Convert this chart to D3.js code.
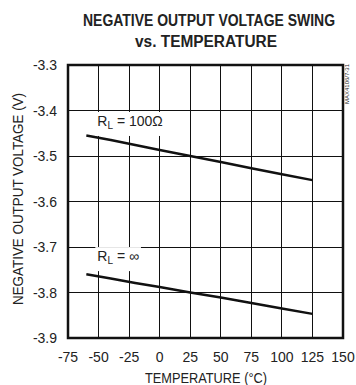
<!DOCTYPE html>
<html>
<head>
<meta charset="utf-8">
<script src="https://cdn.jsdelivr.net/npm/d3@7"></script>
<style>
  html, body { margin: 0; padding: 0; background: #fff; overflow: hidden; }
  svg { display: block; }
  text { font-family: "Liberation Sans", Arial, sans-serif; fill: #222; }
</style>
</head>
<body>
<div id="plot"></div>
<script>
// chart size
const w = 356;
const h = 385;
const margin = {top: 65, right: 13, bottom: 47, left: 68};
const innerWidth = w - margin.left - margin.right;
const innerHeight = h - margin.top - margin.bottom;

// data
const xTicks = [-75, -50, -25, 0, 25, 50, 75, 100, 125, 150];
const yTicks = [-3.3, -3.4, -3.5, -3.6, -3.7, -3.8, -3.9];

const temps = [-60, -40, -20, 0, 25, 50, 75, 100, 125];
const rl100 = [-3.455, -3.465, -3.476, -3.487, -3.500, -3.513, -3.527, -3.540, -3.553];
const rlInf = [-3.760, -3.769, -3.779, -3.788, -3.800, -3.811, -3.823, -3.835, -3.847];

const svg = d3.select("#plot")
  .append("svg")
    .attr("width", w)
    .attr("height", h);

// scales in page coordinates
const xScale = d3.scaleLinear()
    .domain([-75, 150])
    .range([margin.left, w - margin.right]);

const yScale = d3.scaleLinear()
    .domain([-3.3, -3.9])
    .range([margin.top, h - margin.bottom]);

// grid
svg.selectAll(".vgrid")
  .data(xTicks)
  .enter().append("line")
    .attr("x1", d => xScale(d))
    .attr("x2", d => xScale(d))
    .attr("y1", margin.top)
    .attr("y2", h - margin.bottom)
    .attr("stroke", "#111")
    .attr("stroke-width", 1)
    .attr("shape-rendering", "crispEdges");

svg.selectAll(".hgrid")
  .data(yTicks)
  .enter().append("line")
    .attr("x1", margin.left)
    .attr("x2", w - margin.right)
    .attr("y1", d => yScale(d))
    .attr("y2", d => yScale(d))
    .attr("stroke", "#111")
    .attr("stroke-width", 1)
    .attr("shape-rendering", "crispEdges");

// frame
svg.append("rect")
    .attr("x", margin.left)
    .attr("y", margin.top)
    .attr("width", innerWidth)
    .attr("height", innerHeight)
    .attr("fill", "none")
    .attr("stroke", "#111")
    .attr("stroke-width", 2.5);

// tick labels, hyphen instead of unicode minus like the original sheet
const fx = d3.format("d");
const fy = d3.format(".1f");

svg.selectAll(".xlab")
  .data(xTicks)
  .enter().append("text")
    .attr("x", d => xScale(d))
    .attr("y", h - margin.bottom + 24)
    .attr("text-anchor", "middle")
    .attr("font-size", 14)
    .text(d => fx(d).replace("\u2212", "-"));

svg.selectAll(".ylab")
  .data(yTicks)
  .enter().append("text")
    .attr("x", margin.left - 11)
    .attr("y", d => yScale(d) + 5)
    .attr("text-anchor", "end")
    .attr("font-size", 14)
    .text(d => fy(d).replace("\u2212", "-"));

// lines
const line = d3.line()
    .x((d, i) => xScale(temps[i]))
    .y(d => yScale(d));

[rl100, rlInf].forEach(series => {
  svg.append("path")
      .datum(series)
      .attr("d", line)
      .attr("fill", "none")
      .attr("stroke", "#111")
      .attr("stroke-width", 2.5);
});

// curve labels on a white patch that hides the grid behind them
function curveLabel(t, v, rest) {
  const bg = svg.append("rect").attr("fill", "#fff");
  const lab = svg.append("text")
      .attr("x", xScale(t))
      .attr("y", yScale(v))
      .attr("font-size", 14);
  lab.append("tspan").text("R");
  lab.append("tspan").attr("font-size", 10).attr("dy", 3).text("L");
  lab.append("tspan").attr("dy", -3).text(rest);
  const b = lab.node().getBBox();
  bg.attr("x", b.x - 2)
    .attr("y", b.y - 1)
    .attr("width", b.width + 4)
    .attr("height", b.height + 6);
}

curveLabel(-51, -3.434, " = 100Ω");
curveLabel(-51, -3.731, " =  ∞");

// titles
svg.append("text")
    .attr("x", 209)
    .attr("y", 26)
    .attr("text-anchor", "middle")
    .attr("font-size", 16)
    .attr("font-weight", "bold")
    .attr("textLength", 252)
    .attr("lengthAdjust", "spacingAndGlyphs")
    .text("NEGATIVE OUTPUT VOLTAGE SWING");

svg.append("text")
    .attr("x", 206)
    .attr("y", 47)
    .attr("text-anchor", "middle")
    .attr("font-size", 16)
    .attr("font-weight", "bold")
    .attr("textLength", 142)
    .attr("lengthAdjust", "spacingAndGlyphs")
    .text("vs. TEMPERATURE");

svg.append("text")
    .attr("x", 206)
    .attr("y", 383)
    .attr("text-anchor", "middle")
    .attr("font-size", 14)
    .attr("textLength", 122)
    .attr("lengthAdjust", "spacingAndGlyphs")
    .text("TEMPERATURE (°C)");

svg.append("text")
    .attr("transform", `translate(23, 199) rotate(-90)`)
    .attr("text-anchor", "middle")
    .attr("font-size", 14)
    .attr("textLength", 212)
    .attr("lengthAdjust", "spacingAndGlyphs")
    .text("NEGATIVE OUTPUT VOLTAGE (V)");

// part number
svg.append("text")
    .attr("transform", "translate(349, 84) rotate(-90)")
    .attr("text-anchor", "middle")
    .attr("font-size", 6)
    .attr("fill", "#555")
    .text("MAX4106/7-31");
</script>
</body>
</html>
